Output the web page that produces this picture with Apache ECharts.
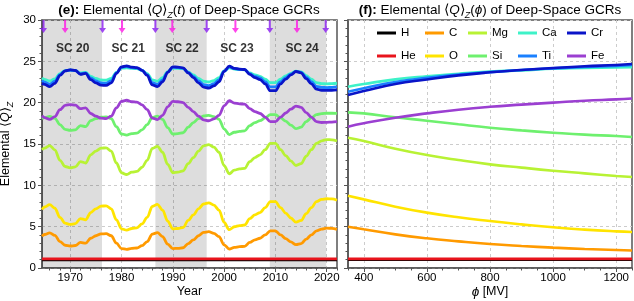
<!DOCTYPE html>
<html><head><meta charset="utf-8">
<script src="https://cdn.jsdelivr.net/npm/echarts@6.0.0/dist/echarts.min.js"></script>
<style>html,body{margin:0;padding:0;background:#fff}#c{width:634px;height:301px}</style>
</head><body><div id="c"></div>
<script>
// ---------- data: panel (e), time series ----------
const years = [1964.5,1965,1966,1967,1968,1969,1970,1971,1972,1973,1974,1975,1976,1977,1978,1979,1980,1981,1982,1983,1984,1985,1986,1987,1988,1989,1990,1991,1992,1993,1994,1995,1996,1997,1998,1999,2000,2001,2002,2003,2004,2005,2006,2007,2008,2009,2010,2011,2012,2013,2014,2015,2016,2017,2018,2019,2020,2021,2022];
const edgeYears = [1964.5, 2022];
const hTime  = [1.0, 1.0];
const heTime = [1.1, 1.1];
const cTime  = [3.85,4.05,4.25,3.95,3.2,2.75,2.66,2.72,3.1,3.0,3.6,3.9,4.12,4.15,3.9,3.0,2.35,2.26,2.38,2.42,2.7,3.2,4.1,4.27,3.8,2.9,2.35,2.38,2.45,2.95,3.4,3.9,4.3,4.4,4.2,3.8,2.8,2.3,2.5,2.58,2.62,3.1,3.4,3.6,4.0,4.5,4.5,4.0,3.55,3.15,2.82,2.95,3.5,4.0,4.5,4.7,4.82,4.8,4.68];
const oTime  = [7.08,7.38,7.67,7.23,6.12,5.42,5.27,5.37,5.98,5.83,6.71,7.16,7.48,7.52,7.16,5.83,4.73,4.57,4.78,4.85,5.33,6.12,7.45,7.70,7.01,5.68,4.73,4.78,4.90,5.75,6.42,7.16,7.74,7.89,7.60,7.01,5.51,4.64,4.99,5.13,5.20,5.98,6.42,6.71,7.30,8.04,8.04,7.30,6.64,6.05,5.54,5.75,6.57,7.30,8.04,8.30,8.38,8.35,8.2];
const mgTime = [14.3,14.5,14.8,14.3,13.03,12.28,12.12,12.23,12.87,12.70,13.69,14.15,14.49,14.54,14.15,12.70,11.52,11.31,11.59,11.68,12.19,13.03,14.46,14.72,14.0,12.54,11.52,11.59,11.75,12.62,13.36,14.15,14.77,14.93,14.62,14.0,12.37,11.40,11.84,11.98,12.05,12.87,13.36,13.69,14.31,15.08,15.08,14.31,13.60,12.95,12.40,12.62,13.52,14.31,15.08,15.39,15.54,15.51,15.36];
const siTime = [18.03,18.19,18.35,18.11,17.34,16.77,16.64,16.72,17.22,17.09,17.83,18.07,18.25,18.27,18.07,17.09,16.21,16.08,16.26,16.31,16.70,17.34,18.23,18.37,17.99,16.97,16.21,16.26,16.36,17.03,17.59,18.07,18.39,18.47,18.31,17.99,16.83,16.14,16.42,16.53,16.59,17.22,17.59,17.83,18.15,18.55,18.55,18.15,17.77,17.28,16.86,17.03,17.71,18.15,18.55,18.68,18.72,18.72,18.7];
const caTime = [22.98,22.80,22.63,22.89,23.51,23.87,23.94,23.89,23.59,23.67,23.19,22.93,22.74,22.72,22.93,23.67,24.17,24.22,24.15,24.12,23.91,23.51,22.76,22.61,23.02,23.75,24.17,24.15,24.11,23.71,23.35,22.93,22.59,22.50,22.67,23.02,23.83,24.20,24.07,24.00,23.97,23.59,23.35,23.19,22.85,22.42,22.42,22.85,23.23,23.55,23.81,23.71,23.27,22.85,22.42,22.3,22.28,22.3,22.35];
const tiTime = [22.70,22.47,22.24,22.59,23.40,23.85,23.95,23.88,23.50,23.60,22.99,22.64,22.39,22.36,22.64,23.60,24.27,24.36,24.24,24.19,23.90,23.40,22.42,22.22,22.76,23.70,24.27,24.24,24.16,23.65,23.19,22.64,22.19,22.07,22.30,22.76,23.80,24.32,24.11,24.03,23.99,23.50,23.19,22.99,22.53,21.9,21.9,22.53,23.04,23.45,23.78,23.65,23.09,22.53,21.96,21.85,21.82,21.85,21.9];
const crTime = [22.35,22.21,21.95,22.34,23.29,23.85,23.96,23.89,23.42,23.54,22.79,22.40,22.12,22.08,22.40,23.54,24.34,24.46,24.30,24.25,23.91,23.29,22.15,21.93,22.53,23.67,24.34,24.30,24.21,23.61,23.04,22.40,21.89,21.76,22.02,22.53,23.79,24.41,24.15,24.06,24.01,23.42,23.04,22.79,22.27,21.45,21.45,22.27,22.85,23.35,23.77,23.61,22.91,22.27,21.63,21.5,21.48,21.5,21.55];
const feTime = [18.41,18.19,17.97,18.30,19.15,19.67,19.77,19.70,19.27,19.38,18.69,18.36,18.12,18.08,18.36,19.38,20.16,20.29,20.11,20.06,19.73,19.15,18.14,17.95,18.47,19.5,20.16,20.11,20.01,19.44,18.92,18.36,17.92,17.81,18.03,18.47,19.61,20.23,19.95,19.86,19.82,19.27,18.92,18.69,18.25,17.70,17.70,18.25,18.75,19.21,19.59,19.44,18.80,18.25,17.70,17.6,17.62,17.65,17.7];

// solar cycle annotations
const solarMinYears = [1964.8, 1976.3, 1986.6, 1996.6, 2008.9, 2019.8];
const solarMaxYears = [1969.0, 1980.1, 1989.9, 2002.2, 2014.2];
const shadeStarts = [1964.5, 1986.6, 2008.9];
const shadeEnds   = [1976.2, 1996.6, 2019.9];
const scLabels = ['SC 20', 'SC 21', 'SC 22', 'SC 23', 'SC 24'];
const scLabelYears = [1970.5, 1981.3, 1991.8, 2002.5, 2015.2];

// ---------- data: panel (f), vs modulation potential ----------
const phi = [350, 400, 500, 600, 700, 800, 900, 1000, 1100, 1200, 1250];
const edgePhi = [350, 1250];
const hPhi  = [1.0, 1.0];
const hePhi = [1.1, 1.1];
const cPhi  = [5.0, 4.68, 4.07, 3.59, 3.22, 2.9, 2.66, 2.46, 2.3, 2.18, 2.12];
const oPhi  = [8.75, 8.3, 7.42, 6.7, 6.13, 5.68, 5.28, 4.92, 4.64, 4.43, 4.36];
const mgPhi = [15.76, 15.36, 14.43, 13.67, 13.06, 12.54, 12.14, 11.77, 11.45, 11.13, 11.0];
const siPhi = [18.83, 18.7, 18.23, 17.82, 17.38, 16.97, 16.65, 16.37, 16.13, 15.97, 15.85];
const caPhi = [21.93, 22.26, 22.82, 23.2, 23.5, 23.75, 23.91, 24.1, 24.19, 24.27, 24.3];
const tiPhi = [21.33, 21.75, 22.5, 23.0, 23.4, 23.7, 23.95, 24.15, 24.32, 24.45, 24.55];
const crPhi = [20.93, 21.4, 22.26, 22.8, 23.3, 23.67, 23.95, 24.2, 24.4, 24.56, 24.68];
const fePhi = [17.09, 17.5, 18.18, 18.7, 19.15, 19.5, 19.76, 20.0, 20.24, 20.4, 20.5];

// ---------- ticks ----------
const yearTicks = [1970, 1980, 1990, 2000, 2010, 2020];
const yearMinorTicks = [1966, 1968, 1972, 1974, 1976, 1978, 1982, 1984, 1986, 1988, 1992, 1994, 1996, 1998, 2002, 2004, 2006, 2008, 2012, 2014, 2016, 2018, 2022];
const phiTicks = [400, 600, 800, 1000, 1200];
const phiMinorTicks = [350, 450, 500, 550, 650, 700, 750, 850, 900, 950, 1050, 1100, 1150, 1250];

// ---------- styling ----------
const FONT = '"Liberation Sans", Arial, Helvetica, sans-serif';
const AX = '#555555';
const GRIDC = '#cccccc';
const colors = {H:'#000000', He:'#e8141c', C:'#ff9a00', O:'#ffe400', Mg:'#b8f234', Si:'#6ef06e', Ca:'#3ef2c8', Ti:'#1a80ff', Cr:'#0a14c8', Fe:'#9b3fd1'};
const order = ['H','He','C','O','Mg','Si','Ca','Ti','Cr','Fe'];
const timeData = {H:[edgeYears,hTime], He:[edgeYears,heTime], C:[years,cTime], O:[years,oTime], Mg:[years,mgTime], Si:[years,siTime], Ca:[years,caTime], Ti:[years,tiTime], Cr:[years,crTime], Fe:[years,feTime]};
const phiData  = {H:[edgePhi,hPhi], He:[edgePhi,hePhi], C:[phi,cPhi], O:[phi,oPhi], Mg:[phi,mgPhi], Si:[phi,siPhi], Ca:[phi,caPhi], Ti:[phi,tiPhi], Cr:[phi,crPhi], Fe:[phi,fePhi]};
const pairs = (xs, ys) => xs.map((x, i) => [x, ys[i]]);

const arrowPath = 'path://M2.5,0 L4.5,0 L4.5,8 L7,8 L3.5,13 L0,8 L2.5,8 Z';
const arrowLevel = 29.2;
const scLevel = 26.5;

const axLine = {show:true, lineStyle:{color:AX, width:1.5}};
const splitL = {show:true, lineStyle:{type:[3,3], color:GRIDC, width:1}};
const labelStyle = {fontSize:11.5, fontFamily:FONT, color:'#000'};

const richBase = (fs, lh) => ({
  b:{fontWeight:'bold', fontSize:fs, fontFamily:FONT, color:'#000', lineHeight:lh},
  a:{fontSize:fs, fontFamily:FONT, color:'#000', lineHeight:lh},
  q:{fontStyle:'italic', fontSize:fs, fontFamily:FONT, color:'#000', lineHeight:lh},
  s:{fontStyle:'italic', fontSize:Math.round(fs*0.7), fontFamily:FONT, color:'#000', lineHeight:Math.round(lh*0.6), verticalAlign:'bottom'}
});

const series = [];
// gray solar-cycle shading
series.push({type:'line', xAxisIndex:0, yAxisIndex:0, data:[], silent:true,
  markArea:{silent:true, itemStyle:{color:'rgba(0,0,0,0.135)'},
    data: shadeStarts.map((s, i) => [{xAxis:s}, {xAxis:shadeEnds[i]}])}});
order.forEach(n => {
  series.push({type:'line', name:n, xAxisIndex:0, yAxisIndex:0, showSymbol:false, smooth:0.35, smoothMonotone:'x',
    data:pairs(timeData[n][0], timeData[n][1]), lineStyle:{width:2.8, color:colors[n]}, itemStyle:{color:colors[n]}, animation:false});
});
order.forEach(n => {
  series.push({type:'line', name:n, xAxisIndex:2, yAxisIndex:1, showSymbol:false, smooth:true,
    data:pairs(phiData[n][0], phiData[n][1]), lineStyle:{width:2.6, color:colors[n]}, itemStyle:{color:colors[n]}, animation:false});
});
series.push({type:'scatter', xAxisIndex:0, yAxisIndex:0, symbol:arrowPath, symbolSize:[7,13], z:5, silent:true,
  itemStyle:{color:'#8a1cf0'}, data: solarMinYears.map(y => [y, arrowLevel])});
series.push({type:'scatter', xAxisIndex:0, yAxisIndex:0, symbol:arrowPath, symbolSize:[7,13], z:5, silent:true,
  itemStyle:{color:'#ff17e6'}, data: solarMaxYears.map(y => [y, arrowLevel])});
series.push({type:'scatter', xAxisIndex:0, yAxisIndex:0, symbolSize:1, z:6, silent:true,
  itemStyle:{color:'rgba(0,0,0,0)'},
  label:{show:true, position:'inside', formatter:p => p.data[2], fontWeight:'bold', fontSize:12, fontFamily:FONT, color:'#000'},
  data: scLabelYears.map((y, i) => [y, scLevel, scLabels[i]])});

const legendCols = [['H','He'],['C','O'],['Mg','Si'],['Ca','Ti'],['Cr','Fe']];
const legendLeft = [377, 425, 468, 518, 567];

const option = {
  animation:false,
  backgroundColor:'#fff',
  title:[
    {text:'{b|(e):} Elemental {a|⟨}{q|Q}{a|⟩}{s|Z}{a|(}{q|t}{a|)} of Deep-Space GCRs', left:189, top:0, textAlign:'center', padding:0,
     textStyle:{fontSize:13.5, fontWeight:'normal', fontFamily:FONT, color:'#000', lineHeight:20, rich:richBase(13.5,20)}},
    {text:'{b|(f):} Elemental {a|⟨}{q|Q}{a|⟩}{s|Z}{a|(}{q|ϕ}{a|)} of Deep-Space GCRs', left:490, top:0, textAlign:'center', padding:0,
     textStyle:{fontSize:13.5, fontWeight:'normal', fontFamily:FONT, color:'#000', lineHeight:20, rich:richBase(13.5,20)}}
  ],
  legend: legendCols.map((d, i) => ({data:d, orient:'vertical', left:legendLeft[i], top:26, itemWidth:19, itemHeight:3, itemGap:9,
    icon:'rect', padding:0, selectedMode:false, textStyle:{fontSize:11.5, fontFamily:FONT, color:'#000', lineHeight:14}})),
  grid:[
    {left:42, top:20, width:295, height:248, show:true, borderColor:AX, borderWidth:1.5, backgroundColor:'transparent', containLabel:false, outerBoundsMode:'none'},
    {left:348, top:20, width:284, height:248, show:true, borderColor:AX, borderWidth:1.5, backgroundColor:'transparent', containLabel:false, outerBoundsMode:'none'}
  ],
  xAxis:[
    {type:'value', gridIndex:0, min:1964.5, max:2022, axisLine:axLine,
     axisTick:{show:true, customValues:yearTicks, length:4, lineStyle:{color:AX, width:1}},
     axisLabel:{customValues:yearTicks, formatter:v => String(v), margin:4, ...labelStyle},
     splitLine:splitL, name:'Year', nameLocation:'middle', nameGap:17, nameMoveOverlap:false,
     nameTextStyle:{fontSize:12.5, fontFamily:FONT, color:'#000'}},
    {type:'value', gridIndex:0, position:'bottom', min:1964.5, max:2022, axisLine:{show:false},
     axisTick:{show:true, customValues:yearMinorTicks, length:2.5, lineStyle:{color:AX, width:1}},
     axisLabel:{show:false}, splitLine:{show:false}},
    {type:'value', gridIndex:1, min:350, max:1250, axisLine:axLine,
     axisTick:{show:true, customValues:phiTicks, length:4, lineStyle:{color:AX, width:1}},
     axisLabel:{customValues:phiTicks, formatter:v => String(v), margin:4, ...labelStyle},
     splitLine:splitL, name:'{q|ϕ} [MV]', nameLocation:'middle', nameGap:17, nameMoveOverlap:false,
     nameTextStyle:{fontSize:12.5, fontFamily:FONT, color:'#000', rich:{q:{fontStyle:'italic', fontSize:13.5, fontFamily:FONT, color:'#000'}}}},
    {type:'value', gridIndex:1, position:'bottom', min:350, max:1250, axisLine:{show:false},
     axisTick:{show:true, customValues:phiMinorTicks, length:2.5, lineStyle:{color:AX, width:1}},
     axisLabel:{show:false}, splitLine:{show:false}}
  ],
  yAxis:[
    {type:'value', gridIndex:0, min:0, max:30, interval:5, axisLine:axLine,
     axisTick:{show:true, length:4, lineStyle:{color:AX, width:1}},
     minorTick:{show:true, splitNumber:5, length:2.5, lineStyle:{color:AX, width:1}},
     axisLabel:{margin:6, ...labelStyle}, splitLine:splitL,
     name:'Elemental {a|⟨}{q|Q}{a|⟩}{s|Z}', nameLocation:'middle', nameGap:27, nameRotate:90, nameMoveOverlap:false,
     nameTextStyle:{fontSize:12.5, fontFamily:FONT, color:'#000', lineHeight:18, rich:richBase(12.5,18)}},
    {type:'value', gridIndex:1, min:0, max:30, interval:5, axisLine:axLine,
     axisTick:{show:true, length:4, lineStyle:{color:AX, width:1}},
     minorTick:{show:true, splitNumber:5, length:2.5, lineStyle:{color:AX, width:1}},
     axisLabel:{show:false}, splitLine:splitL}
  ],
  series: series
};
const chart = echarts.init(document.getElementById('c'), null, {renderer:'canvas', width:634, height:301});
chart.setOption(option);
</script>
</body></html>
